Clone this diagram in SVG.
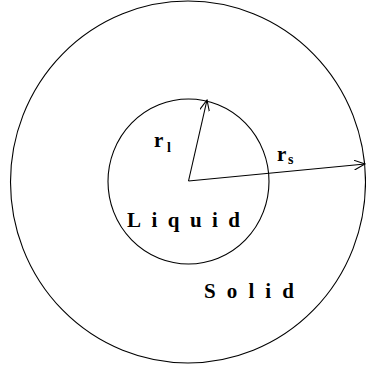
<svg xmlns="http://www.w3.org/2000/svg" width="366" height="370" viewBox="0 0 366 370">
<defs>
<style>
.ln{fill:none;stroke:#000;stroke-width:1.1}
.lbl{font-family:"Liberation Serif",serif;font-size:21px;font-weight:bold;fill:#000}
.sym{font-family:"Liberation Serif",serif;font-size:21px;font-weight:bold;fill:#000}
.sub{font-family:"Liberation Serif",serif;font-size:14px;font-weight:bold;fill:#000}
</style>
<marker id="ah" viewBox="0 0 12 10" refX="11" refY="5" markerWidth="12" markerHeight="10" markerUnits="userSpaceOnUse" orient="auto">
<path d="M0,0 L11,5 L0,10" fill="none" stroke="#000" stroke-width="1.1"/>
</marker>
</defs>
<g id="outer"><ellipse class="ln" cx="188" cy="182" rx="177.5" ry="181"/></g>
<g id="inner"><ellipse class="ln" cx="188.5" cy="181.5" rx="80.5" ry="82.5"/></g>
<g id="connectors">
<line class="ln" x1="188.5" y1="181" x2="207" y2="100" marker-end="url(#ah)"/>
<line class="ln" x1="188.5" y1="181" x2="365" y2="164" marker-end="url(#ah)"/>
</g>
<g id="labels">
<text class="sym" x="154" y="147">r</text><text class="sub" x="167" y="152">l</text>
<text class="sym" x="277" y="161">r</text><text class="sub" x="288" y="164">s</text>
<text class="lbl" x="127" y="227" textLength="113" lengthAdjust="spacing">Liquid</text>
<text class="lbl" x="204" y="298" textLength="90" lengthAdjust="spacing">Solid</text>
</g>
</svg>
